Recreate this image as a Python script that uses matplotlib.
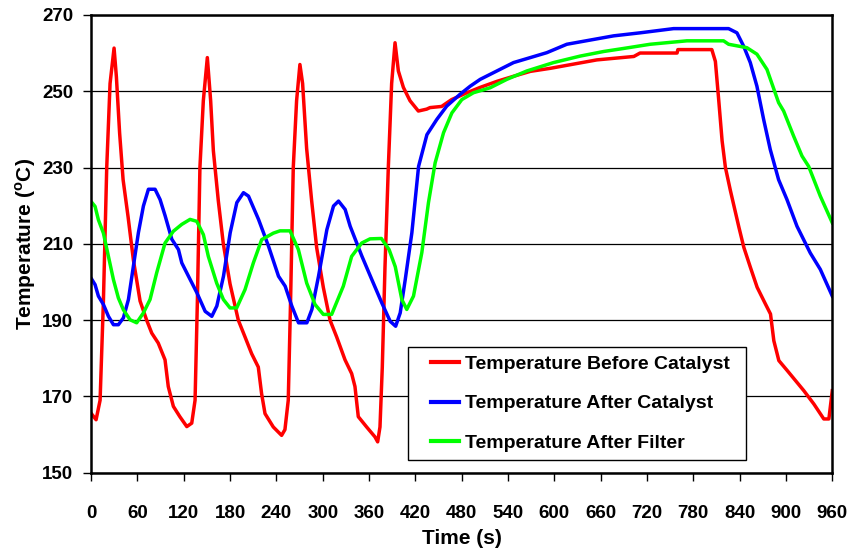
import matplotlib
matplotlib.use("Agg")
import matplotlib.pyplot as plt
from matplotlib.legend_handler import HandlerLine2D

# values (time in s, temperature in degC)
before_t = [0, 6.5, 11.7, 16, 20.3, 24.6, 29.8, 32.8, 37, 41.5, 48, 54.8, 63.5, 72, 78.6,
            87, 95.8, 100, 106.6, 115, 124, 130.4, 134.7, 137.7, 141, 145.4, 150.6, 154.9,
            158.4, 164.8, 171.3, 180, 190.7, 199.4, 208, 216.6, 220.9, 225.3, 236, 246.8,
            251.1, 255.4, 258.4, 261.9, 266.2, 270.5, 274, 279.2, 285.7, 292.2, 300.8,
            309.5, 318.1, 328.9, 337.5, 341.8, 346.1, 356.9, 367.7, 371.2, 374.2, 377.2,
            380.7, 385, 389.3, 393.7, 398, 404.5, 413.1, 423.9, 434.7, 439, 454, 467, 487,
            504, 526, 547, 569, 595, 625, 655, 703, 711, 759, 760, 804, 808.6, 813, 817.3,
            821.6, 828, 839, 845.4, 854, 862.7, 873.5, 880, 884.3, 890.8, 901.6, 923.2,
            936.2, 949, 955.6, 960]
before_T = [165.6, 163.9, 169, 195, 230, 252, 261.3, 253.8, 239, 226.8, 217, 205.8, 195, 190,
            186.6, 184, 179.6, 172.6, 167.4, 164.7, 162.1, 163, 169, 195, 230, 247.5, 258.8,
            247.5, 234.4, 221.3, 210, 199.5, 190, 185.6, 181.2, 177.7, 170.7, 165.5, 162,
            159.8, 161.3, 169, 195, 230, 247.5, 257, 252, 235, 221.3, 209, 198.6, 190, 185.6,
            179.6, 176, 172.6, 164.7, 162, 159.4, 158.1, 162, 177.7, 204, 230, 252, 262.7,
            255.3, 251, 247.5, 244.8, 245.3, 245.7, 246, 247.8, 249.6, 251, 252.6, 253.9,
            255.2, 256, 257.1, 258.2, 259.1, 260, 260, 260.9, 260.9, 257.8, 247.5, 237, 230,
            224, 214.4, 209.1, 203.8, 198.6, 194.2, 191.6, 184.6, 179.4, 176.8, 171.5, 168,
            164.1, 164.1, 171.5]

after_cat_t = [0, 5.2, 9.5, 16, 22.5, 29, 35.4, 41.9, 48.4, 54.8, 61.3, 67.8, 74.3, 82.9,
               89.4, 96, 104.6, 113.2, 117.5, 126.2, 137, 147.8, 156.4, 162.9, 171.5, 180.2,
               188.8, 197.4, 203.9, 216.9, 229.8, 242.8, 251.4, 260, 268.7, 279.5, 286,
               294.6, 305.4, 314, 320.5, 329.1, 335.6, 350.7, 363.7, 376.6, 387.4, 394.5,
               400.4, 406.9, 415.5, 424.2, 435, 447.8, 460.7, 478, 491, 504, 525.6, 547.2,
               568.8, 590.3, 616.2, 646.5, 676.7, 711.3, 754.5, 825.7, 836.5, 845.2, 853.8,
               862.4, 871.1, 879.7, 890.5, 901.3, 914.3, 922.9, 931.5, 944.5, 960]
after_cat_T = [201, 199.3, 196.3, 194.1, 191, 188.8, 188.8, 190.6, 195.4, 204.1, 212.9, 219.9,
               224.3, 224.3, 221.6, 217.3, 211.2, 208.5, 205, 201.5, 197.2, 192.3, 191, 193.7,
               201.5, 212.9, 220.8, 223.4, 222.5, 216.4, 209.4, 201.5, 198.9, 193.7, 189.3,
               189.3, 192.8, 201.5, 213.7, 219.9, 221.2, 219, 214.6, 206.8, 200.6, 194.5,
               189.7, 188.4, 191.9, 200.6, 212.9, 230.3, 238.6, 242.6, 246.1, 249.2, 251.3,
               253.1, 255.3, 257.5, 258.8, 260.1, 262.3, 263.4, 264.5, 265.3, 266.4, 266.4,
               265.3, 261.8, 257.5, 251.3, 242.6, 234.7, 226.8, 221.6, 214.6, 211.1, 207.6,
               203.3, 196.3]

after_filt_t = [0, 5.2, 9.5, 16, 22.5, 29, 35.4, 41.9, 50.5, 59.1, 67.8, 76.4, 85, 95.8,
                106.6, 117.5, 128.2, 136.9, 145.5, 151.9, 162.7, 171.4, 180, 188.6, 199.4,
                210.2, 221, 236.1, 244.7, 257.7, 268.5, 279.3, 290.1, 300.8, 311.6, 326.7,
                337.5, 350.5, 361.3, 376, 386, 394, 402.5, 408.9, 417.6, 428.4, 437, 445.6,
                456.5, 467.3, 480.2, 495.3, 516.9, 538.5, 564.4, 599, 633.5, 663.8, 689.7,
                724.2, 771.7, 819.2, 825.7, 849.4, 862.4, 875.4, 890.5, 897, 910, 920.8,
                929.4, 944.5, 960]
after_filt_T = [221.1, 219.8, 216.3, 212.8, 206.7, 200.6, 195.8, 192.7, 190.1, 189.3, 191.9,
                195.4, 202.4, 210.2, 213.3, 215.1, 216.4, 215.9, 212.4, 206.7, 199.7, 195.4,
                193.2, 193.2, 198, 205, 211.1, 212.8, 213.4, 213.4, 208.5, 199.7, 194.1, 191.5,
                191.5, 198.9, 206.7, 210.2, 211.3, 211.4, 208.5, 204, 195.4, 192.8, 196.3,
                207.7, 220.8, 231.2, 239.1, 244.3, 247.8, 249.6, 250.9, 253.1, 255.3, 257.5,
                259.2, 260.4, 261.2, 262.3, 263.2, 263.2, 262.3, 261.4, 259.7, 255.7, 247,
                244.8, 238.2, 233, 230.3, 222.5, 215.5]

x_ticks = list(range(0, 961, 60))
y_ticks = list(range(150, 271, 20))

plt.rcParams["font.family"] = ["Liberation Sans", "DejaVu Sans"]
plt.rcParams["font.weight"] = "bold"
plt.rcParams["mathtext.fontset"] = "custom"
plt.rcParams["mathtext.bf"] = "Liberation Sans:bold"

fig = plt.figure(figsize=(8.51, 5.51), dpi=100)
ax = fig.add_axes([0.107, 0.142, 0.871, 0.831])

lw = 2.5
ax.plot(before_t, before_T, color="#ff0000", lw=lw, label="Temperature Before Catalyst")
ax.plot(after_cat_t, after_cat_T, color="#0000ff", lw=lw, label="Temperature After Catalyst")
ax.plot(after_filt_t, after_filt_T, color="#00ff00", lw=lw, label="Temperature After Filter")

ax.set_xlim(0, 960)
ax.set_ylim(150, 270)
ax.set_xticks(x_ticks)
ax.set_yticks(y_ticks)
ax.yaxis.grid(True, color="black", lw=0.9)
ax.set_axisbelow(True)
for s in ax.spines.values():
    s.set_linewidth(1.8)
ax.tick_params(axis="x", direction="out", length=6, width=1, pad=17, labelsize=13.5)
ax.tick_params(axis="y", direction="out", length=6, width=1, pad=7, labelsize=13.5)
for lbl in ax.get_xticklabels() + ax.get_yticklabels():
    lbl.set_fontweight("bold")

ax.set_xlabel("Time (s)", fontsize=15, fontweight="bold", labelpad=5)
ax.set_ylabel("Temperature ($^{\\mathbf{o}}$C)", fontsize=15, fontweight="bold", labelpad=3)

fs = 14
leg = ax.legend(loc="lower left", bbox_to_anchor=(0.428, 0.028, 0.456, 0.255), mode="expand",
                frameon=True, fancybox=False, borderaxespad=0, borderpad=0.42,
                handlelength=2.2, handletextpad=0.3, labelspacing=1.12,
                prop={"weight": "bold", "size": fs},
                handler_map={plt.Line2D: HandlerLine2D(xpad=0.77)})
leg.get_frame().set_edgecolor("black")
leg.get_frame().set_linewidth(1.0)
leg.get_frame().set_alpha(1)
for h in leg.get_lines():
    h.set_linewidth(3)

fig.savefig("out.png", dpi=100)
